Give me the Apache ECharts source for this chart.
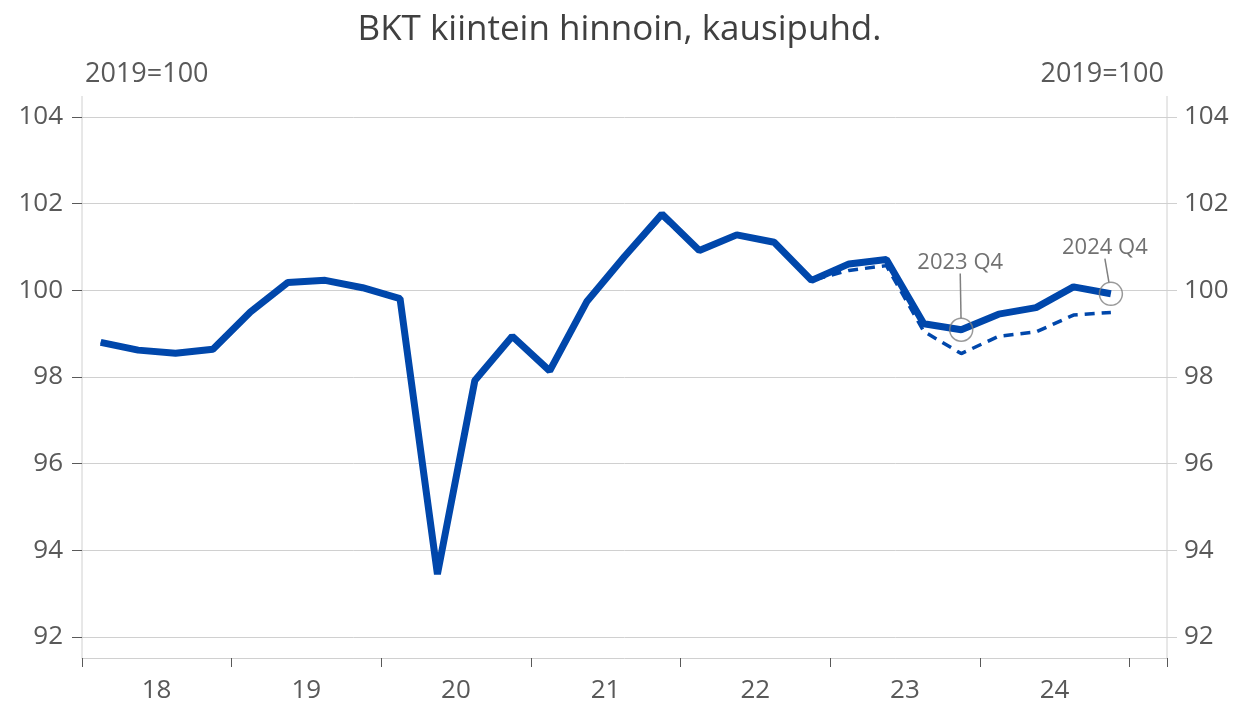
<!DOCTYPE html>
<html>
<head>
<meta charset="utf-8">
<script src="https://cdn.jsdelivr.net/npm/echarts@6/dist/echarts.min.js"></script>
<style>
html, body { margin: 0; padding: 0; background: #fff; }
#chart { width: 1239px; height: 706px; }
</style>
</head>
<body>
<div id="chart"></div>
<script>
// vuodet ja neljännekset
var years = ['18', '19', '20', '21', '22', '23', '24'];
var quarters = ['Q1', 'Q2', 'Q3', 'Q4'];

// BKT kiintein hinnoin, 2019=100 (uusin julkistus)
var gdpLatest = [98.80, 98.62, 98.55, 98.64, 99.50, 100.18, 100.23, 100.06,
	99.81, 93.45, 97.92, 98.94, 98.14, 99.75, 100.78, 101.76,
	100.92, 101.28, 101.11, 100.23, 100.61, 100.71, 99.23, 99.09,
	99.45, 99.60, 100.08, 99.92];

// edellinen julkistus (katkoviiva)
var gdpPrevious = [98.80, 98.62, 98.55, 98.64, 99.50, 100.18, 100.23, 100.06,
	99.81, 93.45, 97.92, 98.94, 98.14, 99.75, 100.75, 101.70,
	100.90, 101.28, 101.11, 100.23, 100.46, 100.57, 99.05, 98.54,
	98.94, 99.04, 99.43, 99.49];

// merkityt pisteet
var markedIdx = [23, 27];
var markedNames = ['2023 Q4', '2024 Q4'];

var yTicks = [92, 94, 96, 98, 100, 102, 104];

var categories = [];
years.forEach(function (y) {
	quarters.forEach(function (q) { categories.push('20' + y + q); });
});
categories.push(''); // tyhjä jakso oikealla

var textColor = '#595959';
var lineColor = '#0047AB';
var gridColor = '#d0d0d0';

var markedData = markedIdx.map(function (i, k) {
	return { name: markedNames[k], value: [i, gdpLatest[i]] };
});

var chart = echarts.init(document.getElementById('chart'));
var option = {
	animation: false,
	title: [{
		text: 'BKT kiintein hinnoin, kausipuhd.',
		left: 'center',
		top: 8,
		textStyle: { fontFamily: 'Open Sans', fontSize: 35, fontWeight: 'normal', color: '#404040' }
	}, {
		text: '2019=100',
		left: 80,
		top: 56,
		textStyle: { fontFamily: 'Open Sans', fontSize: 27, fontWeight: 'normal', color: textColor }
	}, {
		text: '2019=100',
		right: 70,
		top: 56,
		textStyle: { fontFamily: 'Open Sans', fontSize: 27, fontWeight: 'normal', color: textColor }
	}],
	grid: { left: 82, right: 72, top: 117, bottom: 69 },
	xAxis: {
		type: 'category',
		data: categories,
		boundaryGap: true,
		offset: 21,
		axisLine: { lineStyle: { color: gridColor, width: 1 } },
		axisTick: {
			show: true,
			interval: 3,
			length: 9,
			lineStyle: { color: '#595959' }
		},
		axisLabel: {
			interval: function (i) { return i % 4 === 1; },
			formatter: function (v) { return v ? v.slice(2, 4) : ''; },
			padding: [0, 0, 0, 37],
			margin: 20,
			fontFamily: 'Open Sans',
			fontSize: 26,
			color: textColor
		},
		splitLine: { show: false }
	},
	yAxis: [{
		type: 'value',
		min: yTicks[0],
		max: yTicks[yTicks.length - 1],
		interval: 2,
		position: 'left',
		axisLine: { show: false },
		axisTick: { show: true, length: 10, lineStyle: { color: '#595959' } },
		axisLabel: { margin: 19, fontFamily: 'Open Sans', fontSize: 26, color: textColor },
		splitLine: { lineStyle: { color: gridColor, width: 1 } }
	}, {
		type: 'value',
		min: yTicks[0],
		max: yTicks[yTicks.length - 1],
		interval: 2,
		position: 'right',
		axisLine: { show: false },
		axisTick: { show: true, length: 10, lineStyle: { color: gridColor } },
		axisLabel: { margin: 17, fontFamily: 'Open Sans', fontSize: 26, color: textColor },
		splitLine: { show: false }
	}],
	graphic: [{
		type: 'line',
		shape: { x1: 82, y1: 96, x2: 82, y2: 658 },
		style: { stroke: gridColor, lineWidth: 1 }
	}, {
		type: 'line',
		shape: { x1: 1167, y1: 96, x2: 1167, y2: 658 },
		style: { stroke: gridColor, lineWidth: 1 }
	}],
	series: [{
		name: 'Edellinen',
		type: 'line',
		data: gdpPrevious,
		symbol: 'none',
		lineStyle: { color: lineColor, width: 3.5, type: [10, 7] },
		z: 2
	}, {
		name: 'BKT',
		type: 'line',
		data: gdpLatest,
		symbol: 'none',
		lineStyle: { color: lineColor, width: 7 },
		z: 3
	}, {
		name: 'merkinnät',
		type: 'scatter',
		data: markedData,
		symbol: 'circle',
		symbolSize: 23,
		itemStyle: { color: 'rgba(0,0,0,0)', borderColor: '#808080', borderWidth: 1.5 },
		label: {
			show: true,
			position: 'top',
			distance: 5,
			formatter: '{b}',
			padding: [0, 0, 8, 0],
			fontFamily: 'Open Sans',
			fontSize: 22,
			color: '#4d4d4d'
		},
		labelLayout: function (p) {
			return p.dataIndex === 0 ? { dy: -31, dx: -1 } : { dy: -10, dx: -6 };
		},
		labelLine: { show: true, lineStyle: { color: '#808080', width: 1.5 } },
		emphasis: { disabled: true },
		z: 4
	}]
};
chart.setOption(option);
</script>
</body>
</html>
